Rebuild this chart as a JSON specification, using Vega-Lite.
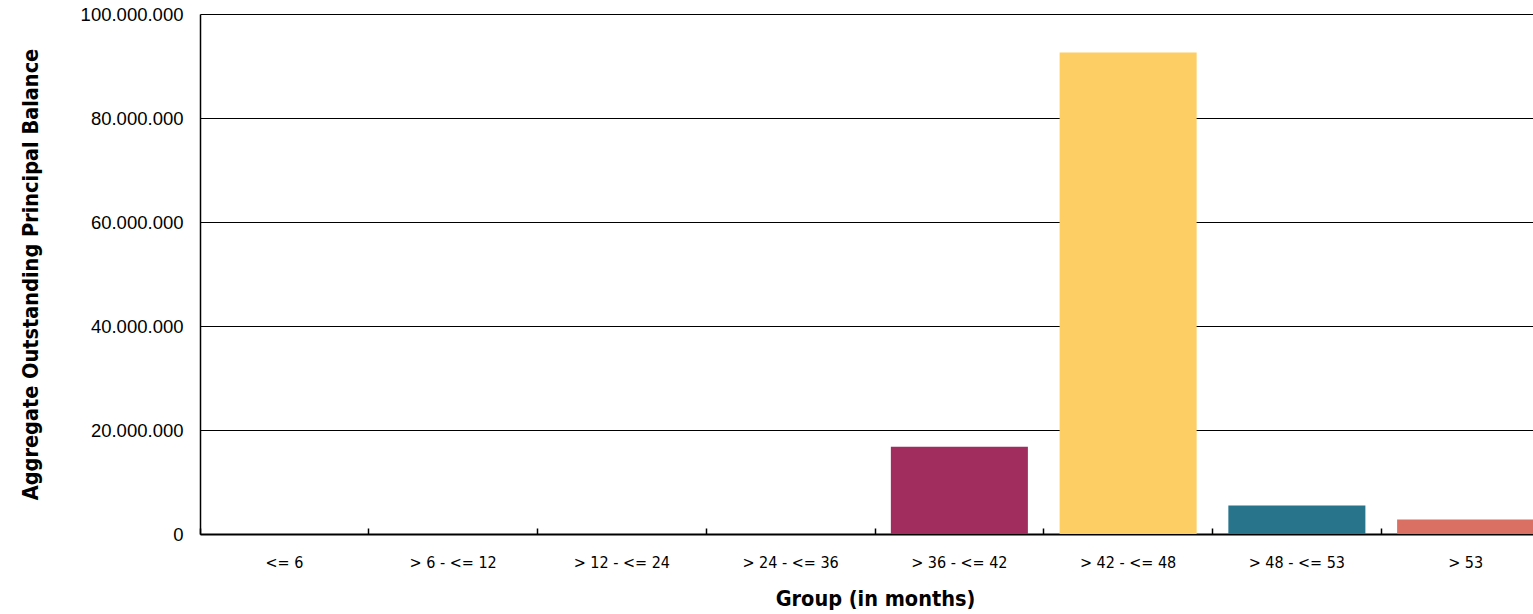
{
  "$schema": "https://vega.github.io/schema/vega-lite/v6.json",
  "width": 1350,
  "height": 520,
  "autosize": {"type": "none"},
  "padding": {"left": 200, "top": 14, "right": -17, "bottom": 80},
  "background": "white",
  "config": {
    "locale": {"number": {"decimal": ",", "thousands": ".", "grouping": [3], "currency": ["", " €"]}},
    "view": {"stroke": null}
  },
  "data": {
    "values": [
      {"group": "<= 6", "balance": 0},
      {"group": "> 6 - <= 12", "balance": 0},
      {"group": "> 12 - <= 24", "balance": 0},
      {"group": "> 24 - <= 36", "balance": 0},
      {"group": "> 36 - <= 42", "balance": 16800000},
      {"group": "> 42 - <= 48", "balance": 92600000},
      {"group": "> 48 - <= 53", "balance": 5500000},
      {"group": "> 53", "balance": 2800000}
    ]
  },
  "mark": {"type": "bar"},
  "encoding": {
    "x": {
      "field": "group",
      "type": "nominal",
      "sort": null,
      "scale": {"paddingInner": 0.188, "paddingOuter": 0.094},
      "axis": {
        "title": "Group (in months)",
        "titleFont": "Liberation Sans Narrow, DejaVu Sans Condensed, sans-serif",
        "titleFontSize": 21.5,
        "titleFontWeight": "bold",
        "titleColor": "black",
        "titlePadding": 18,
        "labelAngle": 0,
        "labelFont": "Liberation Sans Narrow, DejaVu Sans Condensed, sans-serif",
        "labelFontSize": 16,
        "labelColor": "black",
        "labelPadding": 26,
        "domainColor": "black",
        "domainWidth": 2,
        "ticks": true,
        "bandPosition": -0.1157,
        "tickSize": -6,
        "tickColor": "black",
        "tickWidth": 1.5,
        "grid": false
      }
    },
    "y": {
      "field": "balance",
      "type": "quantitative",
      "scale": {"domain": [0, 100000000]},
      "axis": {
        "title": "Aggregate Outstanding Principal Balance",
        "titleFont": "Liberation Sans Narrow, DejaVu Sans Condensed, sans-serif",
        "titleFontSize": 21.5,
        "titleFontWeight": "bold",
        "titleColor": "black",
        "titlePadding": 38,
        "values": [0, 20000000, 40000000, 60000000, 80000000, 100000000],
        "format": ",.0f",
        "labelFont": "Liberation Sans, Arial, sans-serif",
        "labelFontSize": 18.5,
        "labelColor": "black",
        "labelPadding": 17,
        "ticks": false,
        "domainColor": "black",
        "domainWidth": 1.5,
        "grid": true,
        "gridColor": "black",
        "gridWidth": 1,
        "gridOpacity": 1
      }
    },
    "color": {
      "field": "group",
      "type": "nominal",
      "sort": null,
      "scale": {
        "domain": ["<= 6", "> 6 - <= 12", "> 12 - <= 24", "> 24 - <= 36", "> 36 - <= 42", "> 42 - <= 48", "> 48 - <= 53", "> 53"],
        "range": ["#1F5F7A", "#F2A541", "#8A3B6B", "#4C8C6A", "#A12D5F", "#FDCE63", "#27748B", "#DA7063"]
      },
      "legend": null
    }
  }
}
